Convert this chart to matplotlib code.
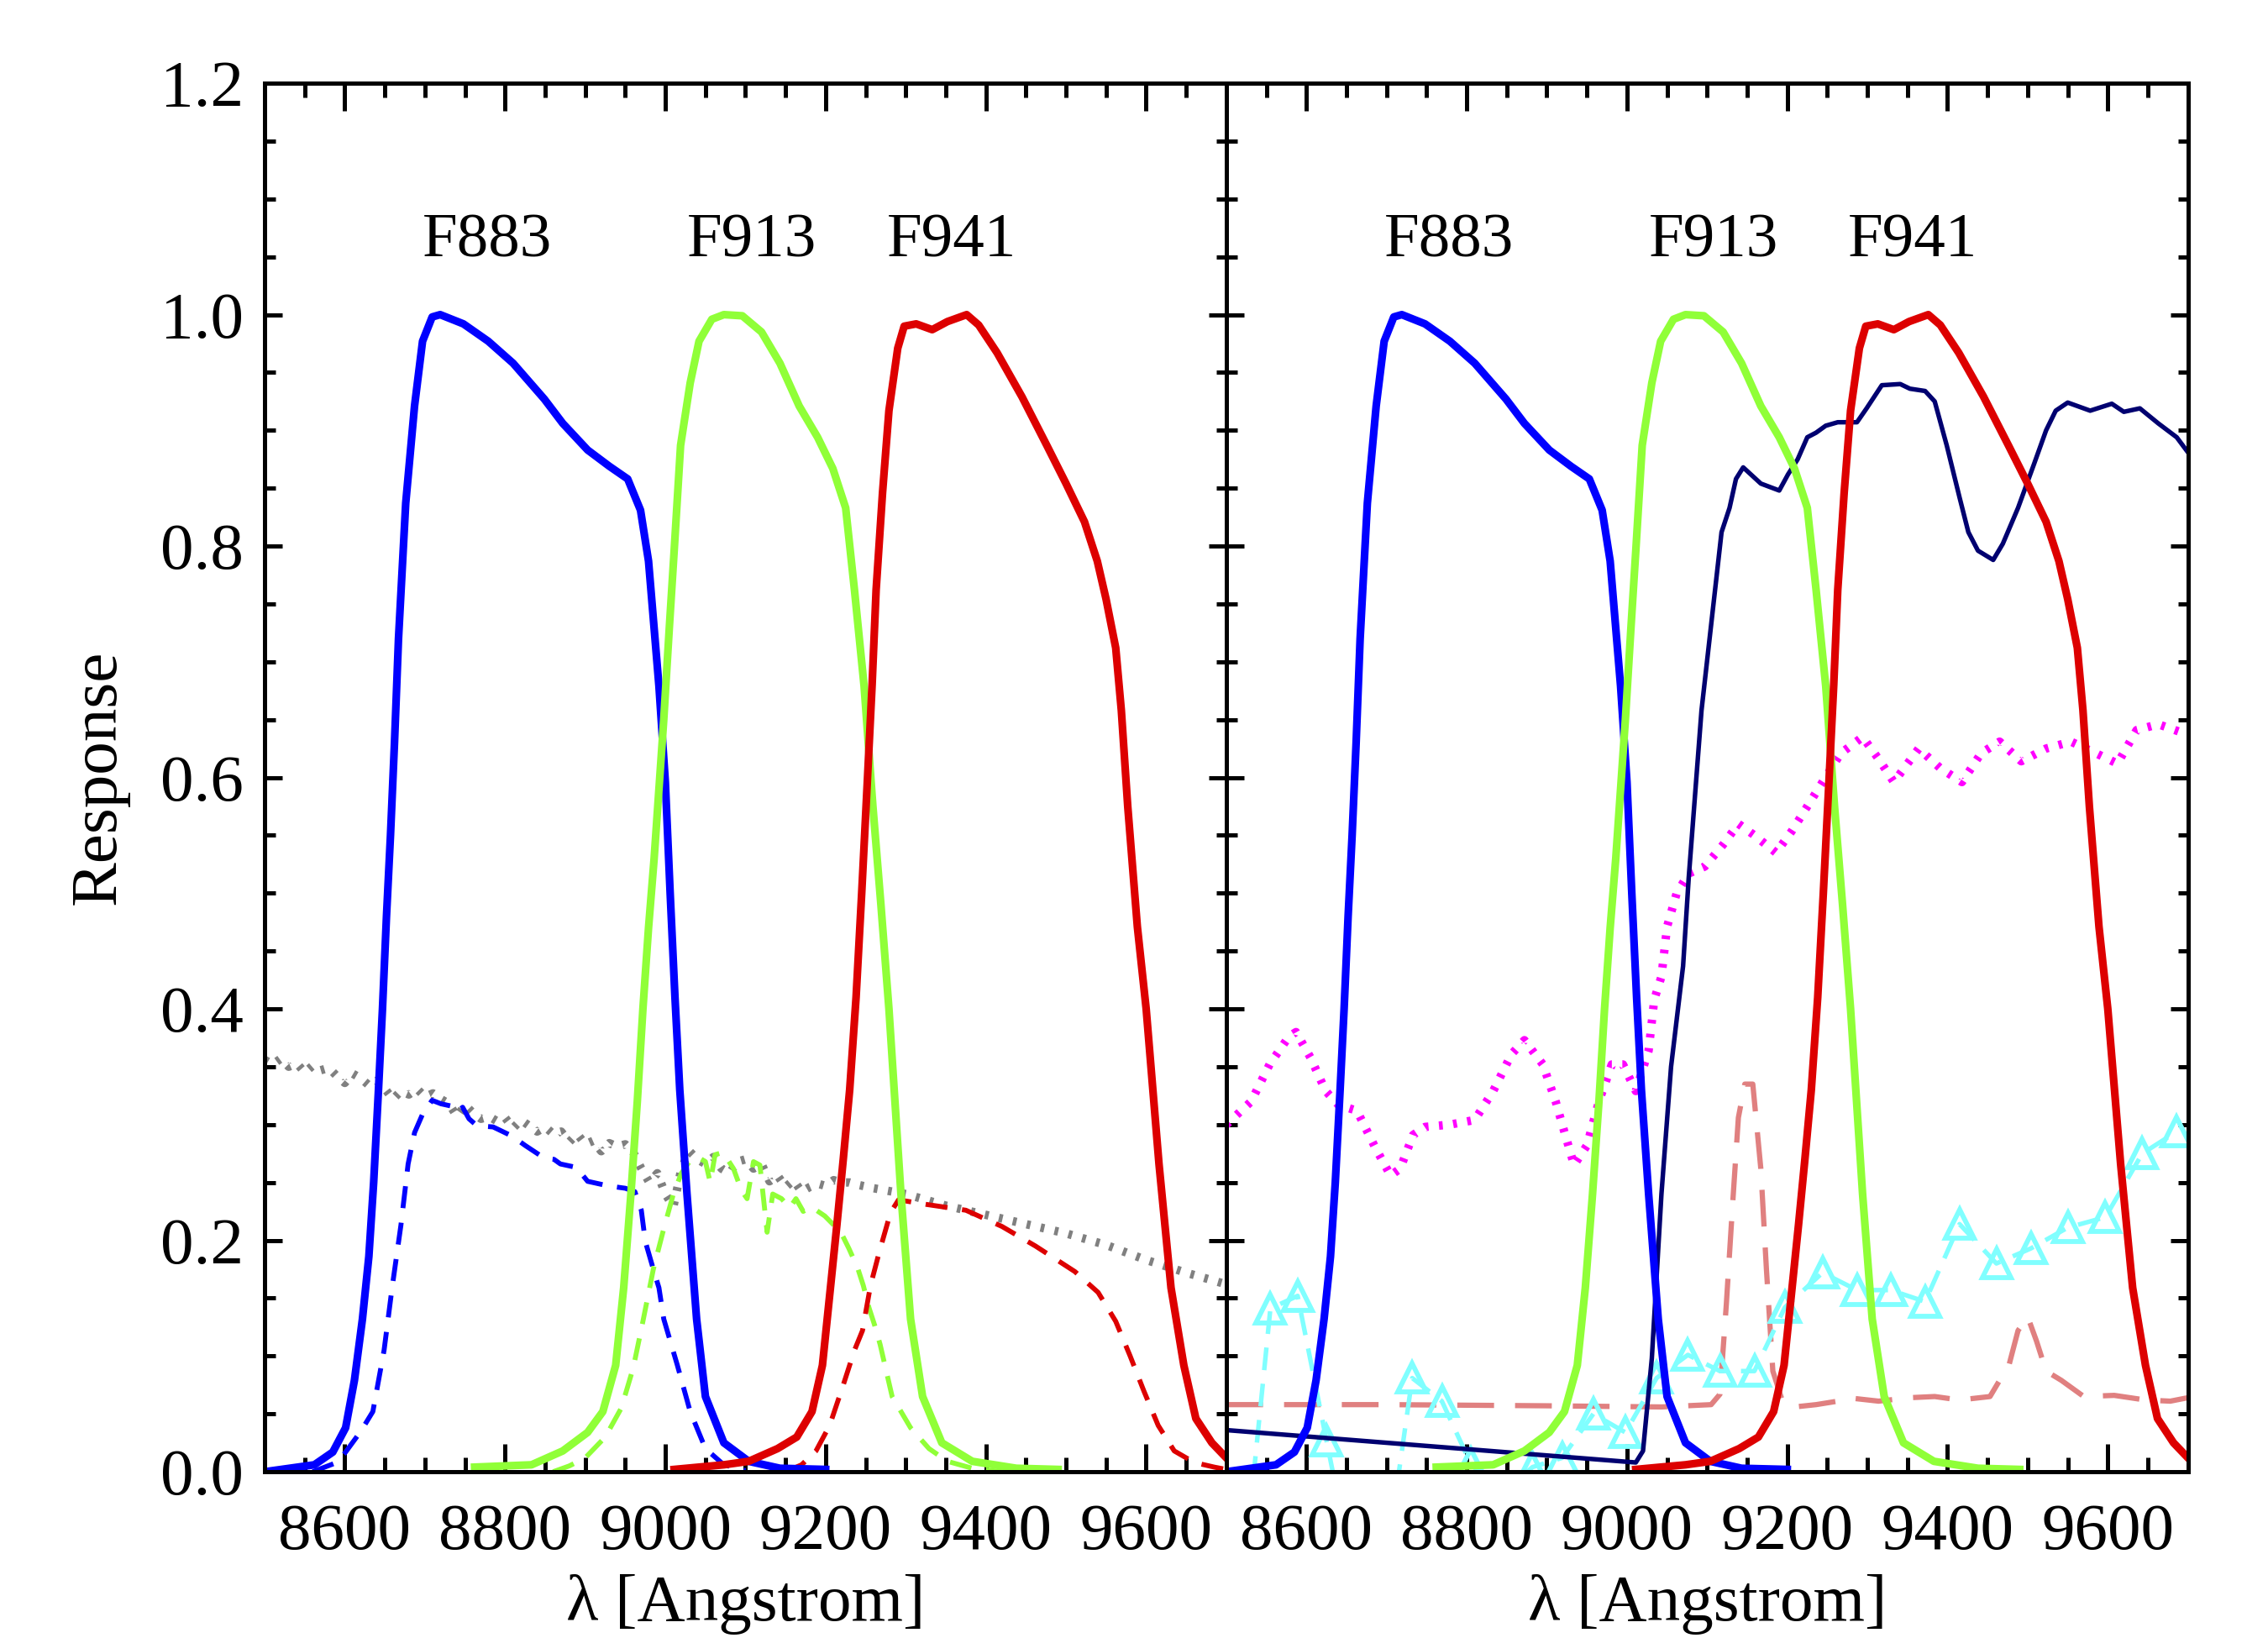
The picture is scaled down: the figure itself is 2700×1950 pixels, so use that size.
import matplotlib
matplotlib.use("Agg")
import matplotlib.pyplot as plt
from matplotlib.ticker import MultipleLocator

plt.rcParams['font.family'] = ['Liberation Serif', 'DejaVu Serif']

# filter curves (same in both panels)
b_x = [8500, 8562, 8585, 8601, 8612, 8622, 8630, 8636, 8642, 8647, 8652, 8657, 8662, 8667, 8676, 8687,
       8697, 8709, 8719, 8748, 8779, 8810, 8849, 8872, 8903, 8930, 8953, 8969, 8979, 8992, 9000, 9006,
       9012, 9018, 9027, 9039, 9050, 9073, 9104, 9143, 9200]
b_y = [0.0, 0.006, 0.017, 0.038, 0.079, 0.132, 0.186, 0.25, 0.33, 0.40, 0.48, 0.55, 0.63, 0.72, 0.837,
       0.921, 0.977, 0.998, 1.0, 0.992, 0.977, 0.958, 0.927, 0.906, 0.883, 0.869, 0.858, 0.831, 0.787,
       0.679, 0.596, 0.50, 0.41, 0.33, 0.24, 0.132, 0.065, 0.025, 0.009, 0.003, 0.002]

g_x = [8762, 8833, 8872, 8903, 8922, 8938, 8948, 8957, 8965, 8972, 8979, 8986, 8992, 8998, 9005, 9011,
       9019, 9031, 9042, 9058, 9073, 9096, 9120, 9143, 9167, 9190, 9209, 9225, 9236, 9248, 9259, 9269,
       9279, 9294, 9306, 9321, 9345, 9383, 9438, 9490]
g_y = [0.004, 0.006, 0.018, 0.034, 0.052, 0.092, 0.159, 0.24, 0.32, 0.40, 0.47, 0.53, 0.59, 0.65, 0.73,
       0.796, 0.887, 0.941, 0.977, 0.996, 1.0, 0.999, 0.985, 0.958, 0.921, 0.894, 0.867, 0.833, 0.762,
       0.679, 0.575, 0.49, 0.40, 0.24, 0.132, 0.065, 0.025, 0.009, 0.003, 0.002]

r_x = [9011, 9073, 9104, 9140, 9164, 9183, 9196, 9206, 9214, 9222, 9230, 9238, 9245, 9252, 9258, 9263,
       9271, 9279, 9290, 9298, 9313, 9333, 9352, 9376, 9391, 9414, 9445, 9476, 9500, 9523, 9539, 9550,
       9562, 9569, 9577, 9589, 9600, 9616, 9631, 9647, 9662, 9682, 9700]
r_y = [0.002, 0.006, 0.009, 0.02, 0.03, 0.052, 0.092, 0.159, 0.213, 0.27, 0.33, 0.41, 0.50, 0.596, 0.68,
       0.762, 0.846, 0.917, 0.971, 0.99, 0.992, 0.987, 0.994, 1.0, 0.991, 0.967, 0.929, 0.887, 0.854,
       0.821, 0.787, 0.754, 0.712, 0.658, 0.575, 0.471, 0.40, 0.266, 0.159, 0.092, 0.046, 0.025, 0.012]

# left panel: throughput curves (dashed) and gray dotted curve
bd_x = [8560, 8590, 8601, 8620, 8635, 8649, 8659, 8670, 8679, 8687, 8697, 8709, 8720, 8733, 8741, 8747,
        8755, 8765, 8785, 8809, 8825, 8849, 8861, 8869, 8889, 8903, 8929, 8950, 8962, 8970, 8975, 8985,
        8992, 8998, 9015, 9031, 9050, 9073, 9100]
bd_y = [0.0, 0.008, 0.017, 0.035, 0.052, 0.105, 0.159, 0.213, 0.266, 0.293, 0.309, 0.321, 0.318, 0.316,
        0.311, 0.315, 0.305, 0.299, 0.298, 0.29, 0.282, 0.271, 0.27, 0.266, 0.263, 0.251, 0.247, 0.245,
        0.242, 0.226, 0.199, 0.175, 0.159, 0.132, 0.092, 0.052, 0.02, 0.006, 0.001]

gd_x = [8860, 8880, 8900, 8925, 8945, 8960, 8972, 8985, 8998, 9010, 9020, 9030, 9040, 9050, 9056, 9062,
        9072, 9085, 9095, 9102, 9110, 9118, 9127, 9134, 9145, 9155, 9163, 9172, 9182, 9199, 9219, 9229,
        9240, 9247, 9254, 9261, 9268, 9283, 9306, 9329, 9352, 9383, 9420]
gd_y = [0.0, 0.005, 0.012, 0.03, 0.055, 0.09, 0.13, 0.175, 0.21, 0.24, 0.258, 0.268, 0.272, 0.268, 0.25,
        0.274, 0.276, 0.262, 0.243, 0.236, 0.268, 0.265, 0.207, 0.24, 0.236, 0.228, 0.236, 0.225, 0.229,
        0.221, 0.207, 0.193, 0.176, 0.161, 0.142, 0.127, 0.11, 0.065, 0.038, 0.02, 0.009, 0.003, 0.0]

rd_x = [9150, 9170, 9188, 9205, 9222, 9236, 9246, 9256, 9267, 9281, 9291, 9326, 9375, 9420, 9462, 9511,
        9540, 9562, 9580, 9597, 9615, 9635, 9660, 9685, 9700]
rd_y = [0.0, 0.006, 0.018, 0.04, 0.075, 0.105, 0.122, 0.161, 0.19, 0.224, 0.235, 0.231, 0.226, 0.212,
        0.195, 0.173, 0.155, 0.13, 0.1, 0.07, 0.04, 0.018, 0.008, 0.004, 0.002]

gr_x = [8500, 8510, 8520, 8530, 8540, 8550, 8560, 8570, 8580, 8590, 8600, 8610, 8620, 8630, 8640, 8650,
        8660, 8670, 8680, 8690, 8700, 8710, 8720, 8730, 8740, 8750, 8760, 8770, 8780, 8790, 8800, 8810,
        8820, 8830, 8840, 8850, 8860, 8870, 8880, 8890, 8900, 8910, 8920, 8930, 8940, 8950, 8960, 8970,
        8980, 8990, 9000, 9010, 9020, 9030, 9040, 9050, 9060, 9070, 9080, 9090, 9100, 9110, 9120, 9130,
        9140, 9150, 9160, 9170, 9180, 9190, 9200, 9210, 9220, 9230, 9240, 9260, 9300, 9350, 9400, 9450,
        9500, 9550, 9600, 9650, 9700]
gr_y = [0.356, 0.352, 0.357, 0.350, 0.353, 0.345, 0.351, 0.347, 0.349, 0.342, 0.336, 0.344, 0.340, 0.334,
        0.338, 0.331, 0.322, 0.329, 0.326, 0.331, 0.324, 0.327, 0.322, 0.318, 0.307, 0.317, 0.310, 0.305,
        0.307, 0.303, 0.306, 0.297, 0.304, 0.299, 0.294, 0.298, 0.292, 0.294, 0.285, 0.292, 0.283, 0.286,
        0.277, 0.284, 0.281, 0.283, 0.276, 0.262, 0.250, 0.258, 0.240, 0.229, 0.262, 0.277, 0.270, 0.266,
        0.272, 0.262, 0.258, 0.268, 0.270, 0.262, 0.266, 0.251, 0.256, 0.246, 0.252, 0.242, 0.246, 0.249,
        0.247, 0.252, 0.250, 0.250, 0.248, 0.245, 0.240, 0.230, 0.222, 0.214, 0.206, 0.196, 0.183, 0.172,
        0.162]

# right panel: other spectra
nv_x = [8500, 9011, 9020, 9031, 9043, 9055, 9070, 9077, 9093, 9112, 9118, 9128, 9136, 9145, 9167, 9190,
        9201, 9213, 9225, 9236, 9248, 9263, 9287, 9299, 9318, 9341, 9353, 9372, 9384, 9399, 9415, 9426,
        9438, 9457, 9469, 9488, 9508, 9523, 9535, 9550, 9578, 9605, 9620, 9640, 9663, 9686, 9700]
nv_y = [0.036, 0.008, 0.018, 0.098, 0.24, 0.35, 0.437, 0.513, 0.658, 0.775, 0.812, 0.833, 0.858, 0.868,
        0.854, 0.848, 0.862, 0.875, 0.894, 0.898, 0.904, 0.907, 0.907, 0.919, 0.939, 0.940, 0.936, 0.934,
        0.925, 0.887, 0.842, 0.812, 0.796, 0.788, 0.802, 0.833, 0.871, 0.9, 0.917, 0.924, 0.917, 0.923,
        0.916, 0.919, 0.906, 0.894, 0.881]

mg_x = [8500, 8531, 8554, 8578, 8587, 8605, 8624, 8640, 8663, 8686, 8705, 8717, 8733, 8748, 8779, 8810,
        8833, 8856, 8872, 8895, 8911, 8923, 8934, 8950, 8965, 8981, 8995, 9011, 9027, 9034, 9043, 9050,
        9062, 9077, 9097, 9120, 9139, 9159, 9186, 9206, 9225, 9244, 9267, 9294, 9314, 9333, 9364, 9391,
        9418, 9442, 9465, 9492, 9523, 9554, 9585, 9612, 9636, 9663, 9700]
mg_y = [0.30, 0.32, 0.352, 0.376, 0.38, 0.358, 0.329, 0.317, 0.312, 0.28, 0.256, 0.262, 0.291, 0.298,
        0.30, 0.304, 0.329, 0.361, 0.373, 0.352, 0.32, 0.291, 0.265, 0.282, 0.32, 0.352, 0.352, 0.329,
        0.364, 0.408, 0.428, 0.471, 0.5, 0.517, 0.523, 0.542, 0.56, 0.55, 0.535, 0.554, 0.575, 0.596,
        0.621, 0.635, 0.616, 0.596, 0.625, 0.608, 0.596, 0.621, 0.631, 0.614, 0.625, 0.631, 0.621, 0.612,
        0.641, 0.646, 0.637]

co_x = [8500, 8700, 8900, 9043, 9105, 9116, 9124, 9132, 9139, 9147, 9157, 9167, 9174, 9182, 9194, 9209,
        9236, 9263, 9275, 9314, 9353, 9384, 9415, 9453, 9477, 9488, 9500, 9511, 9523, 9542, 9570, 9608,
        9647, 9678, 9700]
co_y = [0.058, 0.058, 0.057, 0.056, 0.058, 0.067, 0.145, 0.233, 0.306, 0.335, 0.335, 0.262, 0.175, 0.087,
        0.061, 0.056, 0.058, 0.061, 0.064, 0.061, 0.064, 0.065, 0.062, 0.065, 0.093, 0.122, 0.134, 0.113,
        0.087, 0.079, 0.065, 0.066, 0.062, 0.061, 0.064]

cy_x = [8520, 8555, 8589, 8625, 8662, 8697, 8732, 8769, 8805, 8843, 8882, 8919, 8958, 8998, 9037, 9076,
        9116, 9159, 9197, 9244, 9287, 9329, 9372, 9415, 9461, 9504, 9550, 9597, 9643, 9686]
cy_y = [-0.1, 0.141, 0.152, 0.027, -0.1, -0.09, 0.081, 0.061, 0.007, -0.02, 0.004, 0.012, 0.05, 0.034,
        0.081, 0.101, 0.087, 0.087, 0.142, 0.172, 0.157, 0.157, 0.147, 0.214, 0.180, 0.193, 0.211, 0.220,
        0.275, 0.294]

filter_names = ["F883", "F913", "F941"]
name_x = [8778, 9108, 9357]

blue = "#0000ff"
green = "#90ff38"
red = "#dd0000"

fig = plt.figure(figsize=(9, 6.5), dpi=300)
ax1 = fig.add_axes([0.1167, 0.1015, 0.424, 0.8477])
ax2 = fig.add_axes([0.5407, 0.1015, 0.424, 0.8477])

dot = dict(linestyle=(0, (0.45, 1.25)), dash_capstyle='butt', linewidth=2.4)

# left panel
ax1.plot(gr_x, gr_y, color="#808080", **dot)
ax1.plot(bd_x, bd_y, color=blue, lw=1.4, dashes=(4.5, 3))
ax1.plot(gd_x, gd_y, color=green, lw=1.4, dashes=(4.5, 3))
ax1.plot(rd_x, rd_y, color=red, lw=1.4, dashes=(4.5, 3))

# right panel
ax2.plot(co_x, co_y, color="#e08080", lw=1.5, dashes=(7, 4))
ax2.plot(mg_x, mg_y, color="#ff00ff", **dot)
ax2.plot(cy_x, cy_y, color="#80ffff", lw=1.3, dashes=(5, 3), marker='^', ms=8,
         mfc='none', mec="#80ffff", mew=1.4)
ax2.plot(nv_x, nv_y, color="#000070", lw=1.3)

for ax in (ax1, ax2):
    ax.plot(b_x, b_y, color=blue, lw=2.2, solid_joinstyle='round')
    ax.plot(g_x, g_y, color=green, lw=2.2, solid_joinstyle='round')
    ax.plot(r_x, r_y, color=red, lw=2.2, solid_joinstyle='round')
    for name, x in zip(filter_names, name_x):
        ax.text(x, 1.063, name, fontsize=18, ha='center', va='center')
    ax.set_xlim(8500, 9700)
    ax.set_ylim(0, 1.2)
    ax.xaxis.set_major_locator(MultipleLocator(200))
    ax.xaxis.set_minor_locator(MultipleLocator(50))
    ax.yaxis.set_major_locator(MultipleLocator(0.2))
    ax.yaxis.set_minor_locator(MultipleLocator(0.05))
    ax.tick_params(which='both', direction='in', top=True, right=True, width=1.2, labelsize=19)
    ax.tick_params(axis='x', which='major', length=8, pad=9)
    ax.tick_params(axis='x', which='minor', length=4)
    ax.tick_params(axis='y', which='major', length=5, pad=6)
    ax.tick_params(axis='y', which='minor', length=3)
    for s in ax.spines.values():
        s.set_linewidth(1.2)
    ax.set_xlabel("λ [Angstrom]", fontsize=19, labelpad=3)

ax1.yaxis.set_major_formatter(matplotlib.ticker.FormatStrFormatter('%.1f'))
ax1.set_ylabel("Response", fontsize=19, labelpad=9)
ax2.tick_params(axis='y', labelleft=False)

fig.savefig("out.png", dpi=300)
